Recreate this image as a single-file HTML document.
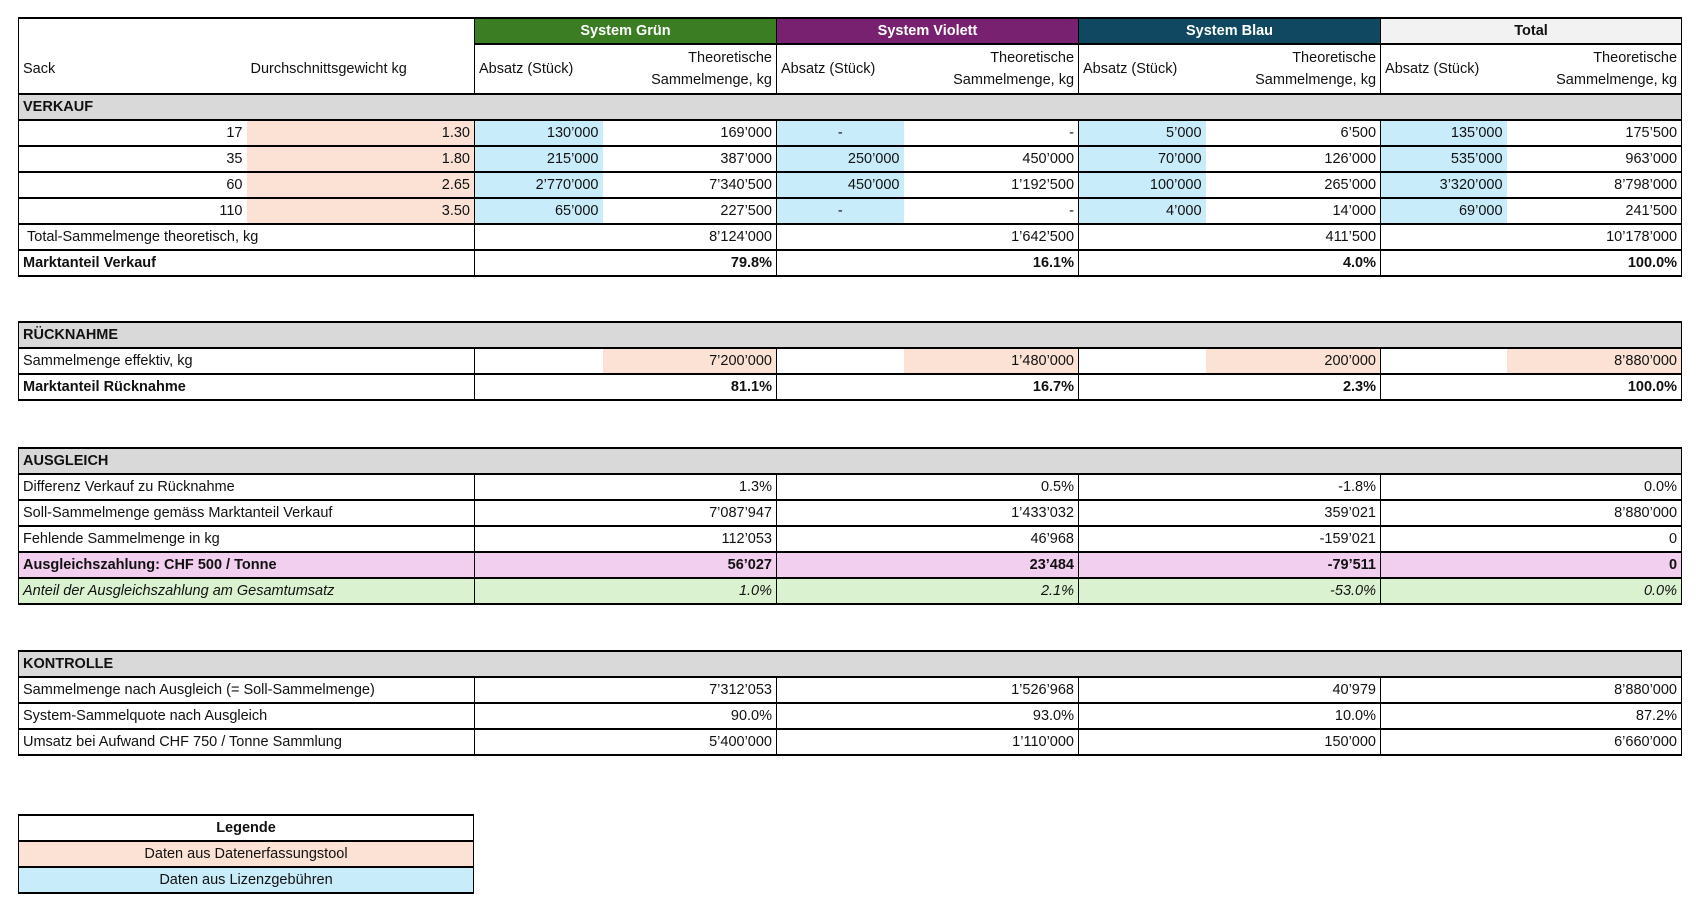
<!DOCTYPE html>
<html><head><meta charset="utf-8"><style>
body{margin:0;width:1697px;height:905px;background:#fff;position:relative;overflow:hidden;font-family:"Liberation Sans Narrow","Liberation Sans",sans-serif;font-size:14.5px;color:#111}
table{position:absolute;left:18px;border-collapse:collapse;table-layout:fixed;width:1663px}
td{border-top:2px solid #000;border-bottom:2px solid #000;padding:0 4px;height:24px;line-height:24px;white-space:nowrap;overflow:hidden;text-align:right;box-sizing:content-box}
td.l{text-align:left}td.c{text-align:center}
td.s{border-left:1.5px solid #000}
td.e{border-right:1.5px solid #000}
.p{background:#fbe2d5}.bl{background:#c9ecfa}.g{background:#d9d9d9}
.b{font-weight:bold}
.pu{background:#f2ceef}.gr{background:#daf2d0;font-style:italic}
.hg{background:#3b7d23;color:#fff;font-weight:bold;text-align:center}
.hv{background:#782170;color:#fff;font-weight:bold;text-align:center}
.hb{background:#104862;color:#fff;font-weight:bold;text-align:center}
.ht{background:#f2f2f2;font-weight:bold;text-align:center}
td.two{line-height:22px;height:48px}
</style></head><body>
<table style="top:17px">
<colgroup><col style="width:228px"><col style="width:228px"><col style="width:128px"><col style="width:174px"><col style="width:127px"><col style="width:175px"><col style="width:127px"><col style="width:175px"><col style="width:126px"><col style="width:175px"></colgroup>
<tr><td colspan="2" class="l s" style="border-bottom:none"></td><td colspan="2" class="hg s">System Grün</td><td colspan="2" class="hv s">System Violett</td><td colspan="2" class="hb s">System Blau</td><td colspan="2" class="ht s e">Total</td></tr>
<tr><td class="l s two" style="border-top:none">Sack</td><td class="l two" style="border-top:none">Durchschnittsgewicht kg</td>
<td class="l s two">Absatz (Stück)</td><td class="two">Theoretische<br>Sammelmenge, kg</td>
<td class="l s two">Absatz (Stück)</td><td class="two">Theoretische<br>Sammelmenge, kg</td>
<td class="l s two">Absatz (Stück)</td><td class="two">Theoretische<br>Sammelmenge, kg</td>
<td class="l s two">Absatz (Stück)</td><td class="two e">Theoretische<br>Sammelmenge, kg</td></tr>
<tr><td colspan="10" class="l g b s e">VERKAUF</td></tr>
<tr><td class="s">17</td><td class="p">1.30</td><td class="bl s">130’000</td><td>169’000</td><td class="bl s c">-</td><td>-</td><td class="bl s">5’000</td><td>6’500</td><td class="bl s">135’000</td><td class="e">175’500</td></tr>
<tr><td class="s">35</td><td class="p">1.80</td><td class="bl s">215’000</td><td>387’000</td><td class="bl s">250’000</td><td>450’000</td><td class="bl s">70’000</td><td>126’000</td><td class="bl s">535’000</td><td class="e">963’000</td></tr>
<tr><td class="s">60</td><td class="p">2.65</td><td class="bl s">2’770’000</td><td>7’340’500</td><td class="bl s">450’000</td><td>1’192’500</td><td class="bl s">100’000</td><td>265’000</td><td class="bl s">3’320’000</td><td class="e">8’798’000</td></tr>
<tr><td class="s">110</td><td class="p">3.50</td><td class="bl s">65’000</td><td>227’500</td><td class="bl s c">-</td><td>-</td><td class="bl s">4’000</td><td>14’000</td><td class="bl s">69’000</td><td class="e">241’500</td></tr>
<tr><td colspan="2" class="l s">&nbsp;Total-Sammelmenge theoretisch, kg</td><td colspan="2" class="s">8’124’000</td><td colspan="2" class="s">1’642’500</td><td colspan="2" class="s">411’500</td><td colspan="2" class="s e">10’178’000</td></tr>
<tr class="b"><td colspan="2" class="l s">Marktanteil Verkauf</td><td colspan="2" class="s">79.8%</td><td colspan="2" class="s">16.1%</td><td colspan="2" class="s">4.0%</td><td colspan="2" class="s e">100.0%</td></tr>
</table>

<table style="top:321px">
<colgroup><col style="width:228px"><col style="width:228px"><col style="width:128px"><col style="width:174px"><col style="width:127px"><col style="width:175px"><col style="width:127px"><col style="width:175px"><col style="width:126px"><col style="width:175px"></colgroup>
<tr><td colspan="10" class="l g b s e">RÜCKNAHME</td></tr>
<tr><td colspan="2" class="l s">Sammelmenge effektiv, kg</td><td class="s"></td><td class="p">7’200’000</td><td class="s"></td><td class="p">1’480’000</td><td class="s"></td><td class="p">200’000</td><td class="s"></td><td class="p e">8’880’000</td></tr>
<tr class="b"><td colspan="2" class="l s">Marktanteil Rücknahme</td><td colspan="2" class="s">81.1%</td><td colspan="2" class="s">16.7%</td><td colspan="2" class="s">2.3%</td><td colspan="2" class="s e">100.0%</td></tr>
</table>

<table style="top:447px">
<colgroup><col style="width:456px"><col style="width:302px"><col style="width:302px"><col style="width:302px"><col style="width:301px"></colgroup>
<tr><td colspan="5" class="l g b s e">AUSGLEICH</td></tr>
<tr><td class="l s">Differenz Verkauf zu Rücknahme</td><td class="s">1.3%</td><td class="s">0.5%</td><td class="s">-1.8%</td><td class="s e">0.0%</td></tr>
<tr><td class="l s">Soll-Sammelmenge gemäss Marktanteil Verkauf</td><td class="s">7’087’947</td><td class="s">1’433’032</td><td class="s">359’021</td><td class="s e">8’880’000</td></tr>
<tr><td class="l s">Fehlende Sammelmenge in kg</td><td class="s">112’053</td><td class="s">46’968</td><td class="s">-159’021</td><td class="s e">0</td></tr>
<tr class="pu b"><td class="l s">Ausgleichszahlung: CHF 500 / Tonne</td><td class="s">56’027</td><td class="s">23’484</td><td class="s">-79’511</td><td class="s e">0</td></tr>
<tr class="gr"><td class="l s">Anteil der Ausgleichszahlung am Gesamtumsatz</td><td class="s">1.0%</td><td class="s">2.1%</td><td class="s">-53.0%</td><td class="s e">0.0%</td></tr>
</table>

<table style="top:650px">
<colgroup><col style="width:456px"><col style="width:302px"><col style="width:302px"><col style="width:302px"><col style="width:301px"></colgroup>
<tr><td colspan="5" class="l g b s e">KONTROLLE</td></tr>
<tr><td class="l s">Sammelmenge nach Ausgleich (= Soll-Sammelmenge)</td><td class="s">7’312’053</td><td class="s">1’526’968</td><td class="s">40’979</td><td class="s e">8’880’000</td></tr>
<tr><td class="l s">System-Sammelquote nach Ausgleich</td><td class="s">90.0%</td><td class="s">93.0%</td><td class="s">10.0%</td><td class="s e">87.2%</td></tr>
<tr><td class="l s">Umsatz bei Aufwand CHF 750 / Tonne Sammlung</td><td class="s">5’400’000</td><td class="s">1’110’000</td><td class="s">150’000</td><td class="s e">6’660’000</td></tr>
</table>

<table style="top:814px;width:456px">
<tr><td class="c b s e">Legende</td></tr>
<tr><td class="c p s e">Daten aus Datenerfassungstool</td></tr>
<tr><td class="c bl s e">Daten aus Lizenzgebühren</td></tr>
</table>
</body></html>
